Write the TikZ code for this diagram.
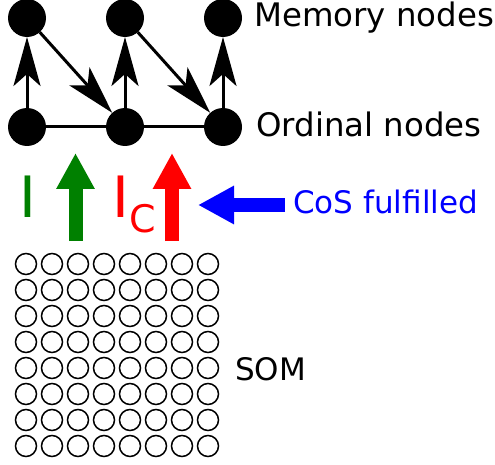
\documentclass[tikz,border=0pt]{standalone}
\usepackage{fontspec}
\setmainfont{DejaVu Sans}
\usetikzlibrary{arrows.meta}
\definecolor{darkgreen}{RGB}{0,128,0}
\begin{document}
\begin{tikzpicture}[x=1pt,y=-1pt,
	unit/.style={circle,fill=black,minimum size=38pt,inner sep=0pt,outer sep=0pt},
	somunit/.style={circle,draw=black,line width=1.5pt,minimum size=21pt,inner sep=0pt},
	link/.style={line width=3pt},
	recall/.style={line width=3pt,-{Stealth[length=49pt,width=27pt,inset=12pt]}},
	bigarrow/.style={line width=14pt,-{Triangle[length=36pt,width=36pt]}},
	label/.style={anchor=base west,inner sep=0pt,font=\fontsize{32.4}{38}\selectfont}]
		\useasboundingbox (0,0) rectangle (495,465);
		\node[unit] (m1) at (27,18) {};
		\node[unit] (m2) at (125,18) {};
		\node[unit] (m3) at (223,18) {};
		\node[unit] (o1) at (27,127) {};
		\node[unit] (o2) at (125,127) {};
		\node[unit] (o3) at (223,127) {};
		\draw[link] (o1) -- (o2) -- (o3);
		\draw[recall] (o1) -- (m1);
		\draw[recall] (o2) -- (m2);
		\draw[recall] (o3) -- (m3);
		\draw[recall] (m1) -- (o2);
		\draw[recall] (m2) -- (o3);
		\node[label] (memlabel) at (254,27) {Memory nodes};
		\node[label] (ordlabel) at (256,137) {Ordinal nodes};
		\node[label,darkgreen,font=\fontsize{57}{60}\selectfont] (inp) at (19.5,218) {I};
		\node[label,red,font=\fontsize{57}{60}\selectfont] (inpc) at (112,218) {I\raisebox{-14pt}{\fontsize{38}{40}\selectfont C}};
		\coordinate (gbot) at (75.5,241);
		\coordinate (gtop) at (75.5,153);
		\coordinate (rbot) at (172,241);
		\coordinate (rtop) at (172,153);
		\draw[bigarrow,darkgreen] (gbot) -- (gtop);
		\draw[bigarrow,red] (rbot) -- (rtop);
		\node[label,blue,font=\fontsize{31}{38}\selectfont] (cos) at (293,214) {CoS fulfilled};
		\coordinate (costip) at (198,205);
		\draw[bigarrow,blue] (285,205) -- (costip);
		\foreach \i in {0,...,7}
			\foreach \j in {0,...,7}
				\node[somunit] (s\i\j) at (26+26*\i,264+26*\j) {};
		\node[label,font=\fontsize{31}{38}\selectfont] (somlabel) at (235,380) {SOM};
\end{tikzpicture}
\end{document}
